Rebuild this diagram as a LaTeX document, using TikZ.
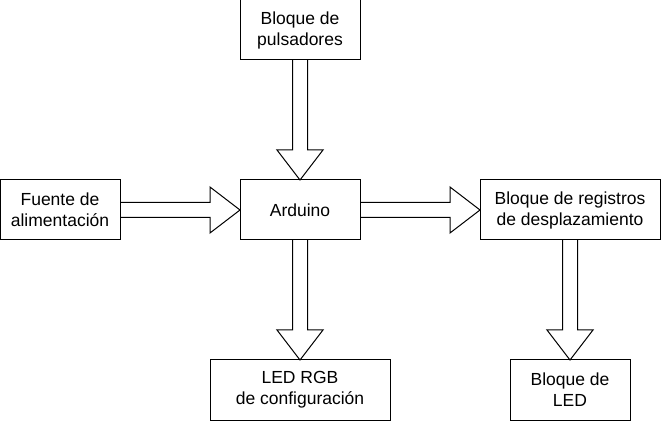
\documentclass[tikz,border=0pt]{standalone}
\usepackage{fontspec}
\setmainfont{Liberation Sans}
\usetikzlibrary{positioning,calc}

\begin{document}
\begin{tikzpicture}[x=1pt,y=1pt,line width=1pt,node distance=120pt,
    block/.style={draw,outer sep=0pt,inner sep=2pt,minimum height=60pt,
      align=center,font=\fontsize{17.5}{21}\selectfont},
    small block/.style={block,minimum width=120pt},
    wide block/.style={block,minimum width=180pt},
    block arrow/.style={draw,line join=miter,to path={
      ($(\tikztostart)!7.5pt!90:(\tikztotarget)$)
      -- ($($(\tikztotarget)!30pt!(\tikztostart)$)!7.5pt!-90:(\tikztostart)$)
      -- ($($(\tikztotarget)!30pt!(\tikztostart)$)!23pt!-90:(\tikztostart)$)
      -- (\tikztotarget)
      -- ($($(\tikztotarget)!30pt!(\tikztostart)$)!23pt!90:(\tikztostart)$)
      -- ($($(\tikztotarget)!30pt!(\tikztostart)$)!7.5pt!90:(\tikztostart)$)
      -- ($(\tikztostart)!7.5pt!-90:(\tikztotarget)$)}}]
    \useasboundingbox (0,0) rectangle (662,-422);
    \node[small block] (arduino) at (300,-210) {Arduino};
    \node[small block] (pulsadores) [above=of arduino] {Bloque de\\pulsadores};
    \node[small block] (fuente) [left=of arduino] {Fuente de\\alimentación};
    \node[wide block] (registros) [right=of arduino] {Bloque de registros\\de desplazamiento};
    \node[wide block] (led_rgb) [below=of arduino] {LED RGB\\de configuración};
    \node[small block] (bloque_led) [below=of registros] {Bloque de\\LED};
    \path
    (pulsadores.south) edge [block arrow] (arduino.north)
    (fuente.east) edge [block arrow] (arduino.west)
    (arduino.east) edge [block arrow] (registros.west)
    (arduino.south) edge [block arrow] (led_rgb.north)
    (registros.south) edge [block arrow] (bloque_led.north)
    ;
\end{tikzpicture}
\end{document}
